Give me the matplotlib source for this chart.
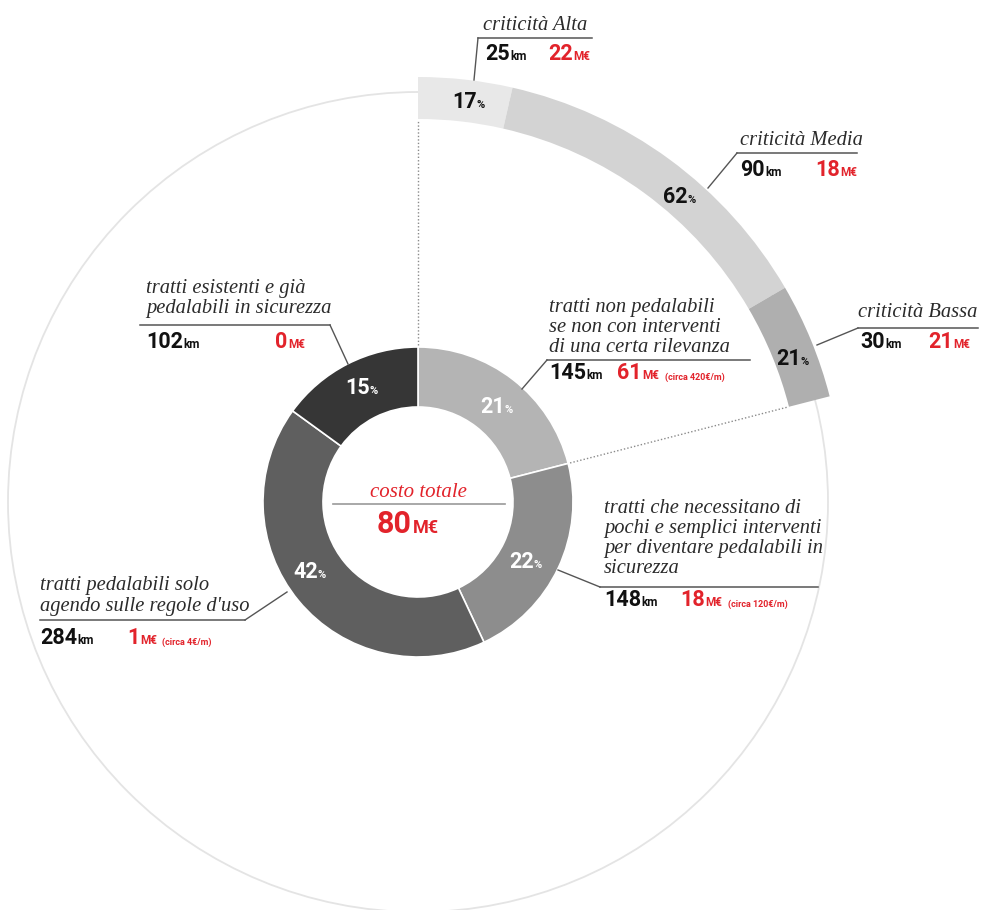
import matplotlib
matplotlib.use('Agg')
import matplotlib.pyplot as plt
import numpy as np
from matplotlib.patches import Circle

# dati: anello interno (tipologia tratti)
donut_pct = [21, 22, 42, 15]
donut_km = [145, 148, 284, 102]
donut_cost = [61, 18, 1, 0]
donut_note = ['(circa 420€/m)', '(circa 120€/m)', '(circa 4€/m)', '']
donut_text = ['tratti non pedalabili\nse non con interventi\ndi una certa rilevanza',
              'tratti che necessitano di\npochi e semplici interventi\nper diventare pedalabili in\nsicurezza',
              "tratti pedalabili solo\nagendo sulle regole d'uso",
              'tratti esistenti e già\npedalabili in sicurezza']
donut_colors = ['#b4b4b4', '#8d8d8d', '#5f5f5f', '#363636']

# dati: arco esterno (criticità dei tratti non pedalabili)
band_pct = [17, 62, 21]
band_km = [25, 90, 30]
band_cost = [22, 18, 21]
band_text = ['criticità Alta', 'criticità Media', 'criticità Bassa']
band_colors = ['#e8e8e8', '#d3d3d3', '#afafaf']

total_cost = 80

W, H = 982, 910
CX, CY = 418, 502   # centro in pixel (y dall'alto)
RED = '#e2232b'
NARROW = ['Roboto', 'DejaVu Sans']
SERIF = ['Liberation Serif', 'DejaVu Serif']


def Y(y):
    return H - y


fig = plt.figure(figsize=(W / 100, H / 100), dpi=100)
ax = fig.add_axes([0, 0, 1, 1])

# cerchio sottile di sfondo
ax.add_patch(Circle((CX, Y(CY)), 410, fill=False, ec='#e4e4e4', lw=1.3, zorder=0))

# anello interno
wedges, _ = ax.pie(donut_pct, radius=155, center=(CX, Y(CY)), startangle=90,
                   counterclock=False, colors=donut_colors,
                   wedgeprops=dict(width=60, edgecolor='white', linewidth=1.2))

# arco esterno = scomposizione del primo spicchio
band_frac = [p / 100 * donut_pct[0] / 100 for p in band_pct]
bwedges, _ = ax.pie(band_frac, normalize=False, radius=425, center=(CX, Y(CY)),
                    startangle=90, counterclock=False, colors=band_colors,
                    wedgeprops=dict(width=42, linewidth=0))

# linee tratteggiate di collegamento
for ang in [90, 90 - 360 * donut_pct[0] / 100]:
    a = np.radians(ang)
    ax.plot([CX + 157 * np.cos(a), CX + 382 * np.cos(a)],
            [Y(CY) + 157 * np.sin(a), Y(CY) + 382 * np.sin(a)],
            ls=(0, (1, 1.5)), color='#8a8a8a', lw=1, zorder=1)


def wedge_point(w, r, frac):
    t1, t2 = w.theta1, w.theta2
    ang = np.radians(t2 - frac * (t2 - t1))
    return CX + r * np.cos(ang), Y(CY) + r * np.sin(ang)


def num_unit(x, y, num, unit, color, big=15.5, small=8.5):
    t = ax.text(x, Y(y), num, fontsize=big, fontweight='bold', color=color,
                family=NARROW, va='baseline', ha='left')
    u = ax.annotate(unit, xy=(1, 0), xycoords=t, xytext=(0.4, 0.21 * big),
                    textcoords='offset points', fontsize=small, fontweight='bold',
                    color=color, family=NARROW, va='baseline', ha='left')
    return t, u


def pct_text(x, y, p, color):
    ax.text(x + 5, y - 6, str(p), fontsize=15.5, fontweight='bold', color=color,
            family=NARROW, ha='right', va='baseline')
    ax.text(x + 4.5, y - 6, '%', fontsize=8, fontweight='bold', color=color,
            family=NARROW, ha='left', va='baseline')


for w, p in zip(wedges, donut_pct):
    x, y = wedge_point(w, 126, 0.54)
    pct_text(x, y, p, 'white')

for w, p in zip(bwedges, band_pct):
    x, y = wedge_point(w, 404, 0.6)
    pct_text(x, y, p, '#111111')

# didascalie anello interno: (x testo, prima baseline, passo, underline y, x0, x1, leader, riga, x km, x costo)
donut_layout = [
    (549, 312, 20, 360, 547, 750, (522, 389), 379, 549, 617),
    (604, 513, 20, 587, 600, 818, (558, 570), 606, 604, 680),
    (40, 590, 21, 620, 40, 245, (287, 592), 644, 40, 127),
    (146, 293, 20, 325, 140, 330, (348, 364), 348, 146, 275),
]
for i, (tx, by, step, uy, ux0, ux1, lead, ry, kx, cx) in enumerate(donut_layout):
    for j, line in enumerate(donut_text[i].split('\n')):
        ax.text(tx, Y(by + j * step), line, fontsize=14.8, style='italic',
                family=SERIF, color='#2b2b2b', va='baseline', ha='left')
    ax.plot([ux0, ux1], [Y(uy), Y(uy)], color='#555555', lw=1.1)
    lx = ux0 if lead[0] < (ux0 + ux1) / 2 else ux1
    ax.plot([lx, lead[0]], [Y(uy), Y(lead[1])], color='#555555', lw=1.0)
    num_unit(kx, ry, str(donut_km[i]), 'km', '#111111')
    t, u = num_unit(cx, ry, str(donut_cost[i]), 'M€', RED)
    if donut_note[i]:
        ax.annotate(donut_note[i], xy=(1, 0), xycoords=u, xytext=(4, 0.3),
                    textcoords='offset points', fontsize=6.5, fontweight='bold',
                    color=RED, family=NARROW, va='bottom', ha='left')

# didascalie arco esterno
band_layout = [
    (483, 30, 38, 478, 592, (474, 80), 60, 485, 548),
    (740, 145, 153, 737, 857, (708, 188), 176, 740, 815),
    (858, 317, 328, 858, 978, (817, 345), 348, 860, 928),
]
for i, (tx, by, uy, ux0, ux1, lead, ry, kx, cx) in enumerate(band_layout):
    ax.text(tx, Y(by), band_text[i], fontsize=14.8, style='italic', family=SERIF,
            color='#2b2b2b', va='baseline', ha='left')
    ax.plot([ux0, ux1], [Y(uy), Y(uy)], color='#555555', lw=1.1)
    ax.plot([ux0, lead[0]], [Y(uy), Y(lead[1])], color='#555555', lw=1.0)
    num_unit(kx, ry, str(band_km[i]), 'km', '#111111')
    num_unit(cx, ry, str(band_cost[i]), 'M€', RED)

# centro
ax.text(CX, Y(497), 'costo totale', fontsize=15, style='italic', family=SERIF,
        color=RED, ha='center', va='baseline')
ax.plot([333, 505], [Y(504), Y(504)], color='#999999', lw=1.2)
ax.text(CX - 6, Y(533), str(total_cost), fontsize=22, fontweight='bold', color=RED,
        family=NARROW, ha='right', va='baseline')
ax.text(CX - 5, Y(533), 'M€', fontsize=13, fontweight='bold', color=RED,
        family=NARROW, ha='left', va='baseline')

ax.set_xlim(0, W)
ax.set_ylim(0, H)
ax.set_aspect('equal')
ax.axis('off')

fig.savefig('out.png', dpi=100, facecolor='white')
